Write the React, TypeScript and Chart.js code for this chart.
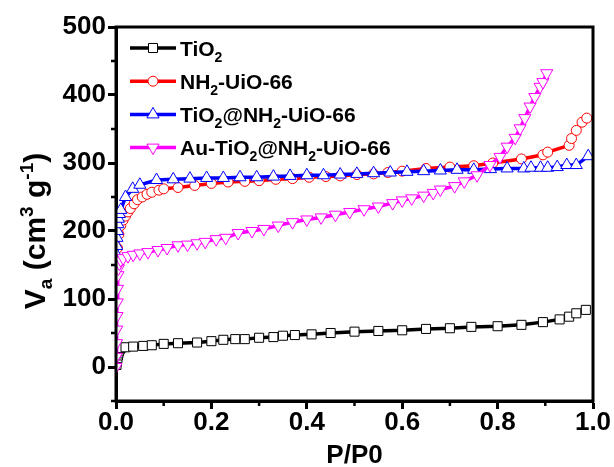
import React, { useEffect, useRef } from 'react';
import { Chart, registerables } from 'chart.js';

Chart.register(...registerables);

const FONT = '"Liberation Sans", Arial, Helvetica, sans-serif';

// Axis ticks
const xTicks = [0, 0.2, 0.4, 0.6, 0.8, 1.0];
const xMinorTicks = [0.1, 0.3, 0.5, 0.7, 0.9];
const yTicks = [0, 100, 200, 300, 400, 500];
const yMinorTicks = [-50, 50, 150, 250, 350, 450];

// Series meta
const seriesLabels = ['TiO₂', 'NH₂-UiO-66', 'TiO₂@NH₂-UiO-66', 'Au-TiO₂@NH₂-UiO-66'];
const seriesColors = ['#000000', '#ff0000', '#0000ff', '#ff00ff'];
const seriesMarkers = ['rect', 'circle', 'triangle', 'triangleDown'];

// TiO2
const tio2P = [0.001, 0.002, 0.003, 0.004, 0.005, 0.006, 0.008, 0.01, 0.02, 0.036, 0.057, 0.075, 0.1, 0.13, 0.17, 0.2, 0.225, 0.25, 0.27, 0.3, 0.33, 0.35, 0.375, 0.41, 0.45, 0.5, 0.55, 0.6, 0.65, 0.7, 0.745, 0.8, 0.85, 0.895, 0.93, 0.95, 0.965, 0.985];
const tio2V = [3, 8, 13, 17, 20, 23, 26, 28, 29, 30, 31, 32, 34, 35, 36, 38, 40, 41, 41, 43, 44, 46, 47, 48, 50, 52, 53, 54, 56, 57, 59, 60, 62, 66, 70, 74, 79, 84];

// NH2-UiO-66
const uioP = [0.003, 0.006, 0.01, 0.015, 0.02, 0.025, 0.03, 0.038, 0.045, 0.055, 0.065, 0.075, 0.09, 0.1, 0.13, 0.165, 0.2, 0.235, 0.27, 0.3, 0.335, 0.37, 0.405, 0.44, 0.47, 0.505, 0.54, 0.57, 0.6, 0.65, 0.7, 0.75, 0.79, 0.85, 0.895, 0.905, 0.95, 0.955, 0.965, 0.977, 0.987];
const uioV = [175, 195, 208, 216, 222, 228, 233, 240, 246, 250, 254, 257, 260, 262, 264, 267, 270, 272, 273, 274, 276, 277, 279, 280, 281, 283, 284, 286, 288, 292, 294, 296, 300, 306, 312, 316, 326, 336, 348, 360, 366];

// TiO2@NH2-UiO-66
const compP = [0.0005, 0.001, 0.0015, 0.002, 0.003, 0.004, 0.005, 0.007, 0.01, 0.02, 0.035, 0.05, 0.085, 0.12, 0.155, 0.19, 0.225, 0.26, 0.295, 0.33, 0.365, 0.4, 0.435, 0.47, 0.505, 0.54, 0.575, 0.61, 0.645, 0.68, 0.715, 0.75, 0.785, 0.82, 0.855, 0.87, 0.89, 0.905, 0.925, 0.945, 0.965, 0.99];
const compV = [150, 165, 178, 190, 200, 210, 218, 225, 231, 250, 262, 268, 275, 276, 277, 278, 278, 279, 279, 280, 281, 282, 282, 283, 284, 285, 286, 287, 288, 289, 290, 290, 291, 292, 292, 293, 293, 293, 294, 297, 297, 310];

// Au-TiO2@NH2-UiO-66
const auP = [0, 0.0005, 0.001, 0.0015, 0.002, 0.0025, 0.003, 0.004, 0.005, 0.007, 0.01, 0.015, 0.025, 0.036, 0.05, 0.067, 0.088, 0.107, 0.13, 0.15, 0.17, 0.187, 0.21, 0.23, 0.256, 0.285, 0.31, 0.34, 0.37, 0.4, 0.43, 0.46, 0.49, 0.52, 0.55, 0.58, 0.6, 0.62, 0.645, 0.665, 0.68, 0.71, 0.73, 0.757, 0.784, 0.805, 0.82, 0.837, 0.847, 0.857, 0.868, 0.878, 0.889, 0.895, 0.903];
const auV = [0, 15, 35, 55, 75, 95, 115, 135, 145, 152, 157, 160, 163, 165, 167, 169, 172, 175, 179, 180, 182, 184, 188, 190, 197, 200, 203, 208, 213, 217, 220, 224, 228, 232, 236, 241, 245, 248, 252, 256, 261, 266, 273, 282, 297, 309, 324, 337, 351, 366, 383, 397, 412, 419, 432];

const seriesP = [tio2P, uioP, compP, auP];
const seriesV = [tio2V, uioV, compV, auV];

type Seg = { t: string; k: 'n' | 'sub' | 'sup' };

function parseLabel(s: string): Seg[] {
  const out: Seg[] = [];
  for (const ch of s) {
    if (ch === '₂') out.push({ t: '2', k: 'sub' });
    else if (out.length && out[out.length - 1].k === 'n') out[out.length - 1].t += ch;
    else out.push({ t: ch, k: 'n' });
  }
  return out;
}

function drawRich(ctx: CanvasRenderingContext2D, segs: Seg[], x: number, y: number, size: number, small: number, subOff: number, supOff: number, align: 'left' | 'center') {
  const fontFor = (k: string) => `bold ${k === 'n' ? size : small}px ${FONT}`;
  let total = 0;
  for (const s of segs) { ctx.font = fontFor(s.k); total += ctx.measureText(s.t).width; }
  let cx = align === 'center' ? x - total / 2 : x;
  ctx.textAlign = 'left';
  ctx.textBaseline = 'alphabetic';
  for (const s of segs) {
    ctx.font = fontFor(s.k);
    const dy = s.k === 'sub' ? subOff : s.k === 'sup' ? -supOff : 0;
    ctx.fillText(s.t, cx, y + dy);
    cx += ctx.measureText(s.t).width;
  }
}

function drawMarker(ctx: CanvasRenderingContext2D, style: string, x: number, y: number, color: string) {
  ctx.beginPath();
  if (style === 'rect') {
    const h = 6.4 * Math.SQRT1_2;
    ctx.rect(x - h, y - h, 2 * h, 2 * h);
  } else if (style === 'circle') {
    ctx.arc(x, y, 5, 0, Math.PI * 2);
  } else {
    const r = 7;
    const s = style === 'triangle' ? 1 : -1;
    ctx.moveTo(x, y - s * r);
    ctx.lineTo(x + r * Math.sin((2 * Math.PI) / 3), y + s * r / 2);
    ctx.lineTo(x - r * Math.sin((2 * Math.PI) / 3), y + s * r / 2);
    ctx.closePath();
  }
  ctx.fillStyle = '#ffffff';
  ctx.fill();
  ctx.lineWidth = 1;
  ctx.strokeStyle = color;
  ctx.stroke();
}

const decorPlugin = {
  id: 'decor',
  afterDraw(chart: any) {
    const { ctx, chartArea: a, scales } = chart;
    const x = scales.x;
    const y = scales.y;
    ctx.save();
    // frame
    ctx.strokeStyle = '#000';
    ctx.lineWidth = 3;
    ctx.strokeRect(a.left, a.top, a.right - a.left, a.bottom - a.top);
    // minor ticks
    ctx.lineWidth = 2.5;
    ctx.beginPath();
    for (const v of xMinorTicks) {
      const px = x.getPixelForValue(v);
      ctx.moveTo(px, a.bottom);
      ctx.lineTo(px, a.bottom + 5);
    }
    for (const v of yMinorTicks) {
      const py = y.getPixelForValue(v);
      ctx.moveTo(a.left, py);
      ctx.lineTo(a.left - 5, py);
    }
    ctx.stroke();

    ctx.fillStyle = '#000';
    // x title
    drawRich(ctx, [{ t: 'P/P0', k: 'n' }], (a.left + a.right) / 2, 463, 26, 18, 0, 0, 'center');
    // y title
    ctx.save();
    ctx.translate(45, (a.top + a.bottom) / 2 + 17);
    ctx.rotate(-Math.PI / 2);
    ctx.fillStyle = '#000';
    drawRich(ctx, [
      { t: 'V', k: 'n' }, { t: 'a', k: 'sub' }, { t: ' (cm', k: 'n' }, { t: '3', k: 'sup' },
      { t: ' g', k: 'n' }, { t: '-1', k: 'sup' }, { t: ')', k: 'n' },
    ], 0, 0, 30, 19, 7, 12, 'center');
    ctx.restore();

    // legend
    for (let i = 0; i < seriesLabels.length; i++) {
      const ry = 48 + i * 33.2;
      ctx.strokeStyle = seriesColors[i];
      ctx.lineWidth = 3.5;
      ctx.beginPath();
      ctx.moveTo(130, ry);
      ctx.lineTo(176, ry);
      ctx.stroke();
      drawMarker(ctx, seriesMarkers[i], 153, ry, seriesColors[i]);
      ctx.fillStyle = '#000';
      drawRich(ctx, parseLabel(seriesLabels[i]), 180, ry + 7.5, 21, 14, 6, 0, 'left');
    }
    ctx.restore();
  },
};

export default function App() {
  const ref = useRef<HTMLCanvasElement | null>(null);
  useEffect(() => {
    if (!ref.current) return;
    const radii = [6.4, 5, 7, 7];
    const orders = [3, 2, 1, 0];
    const datasets = seriesLabels.map((label, i) => ({
      label,
      data: seriesP[i].map((p, j) => ({ x: p, y: seriesV[i][j] })),
      showLine: true,
      borderColor: seriesColors[i],
      borderWidth: 3.5,
      backgroundColor: '#ffffff',
      pointBackgroundColor: '#ffffff',
      pointBorderColor: seriesColors[i],
      pointBorderWidth: 1,
      pointStyle: seriesMarkers[i] === 'triangleDown' ? 'triangle' : seriesMarkers[i],
      pointRotation: seriesMarkers[i] === 'triangleDown' ? 180 : 0,
      pointRadius: radii[i],
      tension: 0,
      order: orders[i],
    }));
    const tickFont = { family: FONT, size: 26, weight: 'bold' as const, lineHeight: 1 };
    const chart = new Chart(ref.current, {
      type: 'scatter',
      data: { datasets },
      options: {
        animation: false,
        responsive: false,
        events: [],
        layout: { padding: { top: 27, right: 21, left: 0, bottom: 0 } },
        plugins: { legend: { display: false }, tooltip: { enabled: false }, title: { display: false } },
        scales: {
          x: {
            type: 'linear',
            min: 0,
            max: 1,
            afterBuildTicks: (s: any) => { s.ticks = xTicks.map((v) => ({ value: v })); },
            afterFit: (s: any) => { s.height = 66; },
            ticks: { font: tickFont, color: '#000', padding: 1, callback: (v: any) => Number(v).toFixed(1), maxRotation: 0, autoSkip: false },
            grid: { display: true, drawOnChartArea: false, drawTicks: true, tickLength: 8, tickWidth: 3, color: '#000' },
            border: { display: true, width: 3, color: '#000' },
          },
          y: {
            type: 'linear',
            min: -50,
            max: 500,
            afterBuildTicks: (s: any) => { s.ticks = yTicks.map((v) => ({ value: v })); },
            afterFit: (s: any) => { s.width = 116; },
            ticks: { font: tickFont, color: '#000', padding: 2, callback: (v: any) => String(v), autoSkip: false },
            grid: { display: true, drawOnChartArea: false, drawTicks: true, tickLength: 8, tickWidth: 3, color: '#000' },
            border: { display: true, width: 3, color: '#000' },
          },
        },
      },
      plugins: [decorPlugin],
    } as any);
    return () => chart.destroy();
  }, []);
  return (
    <div style={{ position: 'fixed', left: 0, top: 0, width: 614, height: 467, background: '#fff' }}>
      <canvas ref={ref} width={614} height={467} />
    </div>
  );
}
